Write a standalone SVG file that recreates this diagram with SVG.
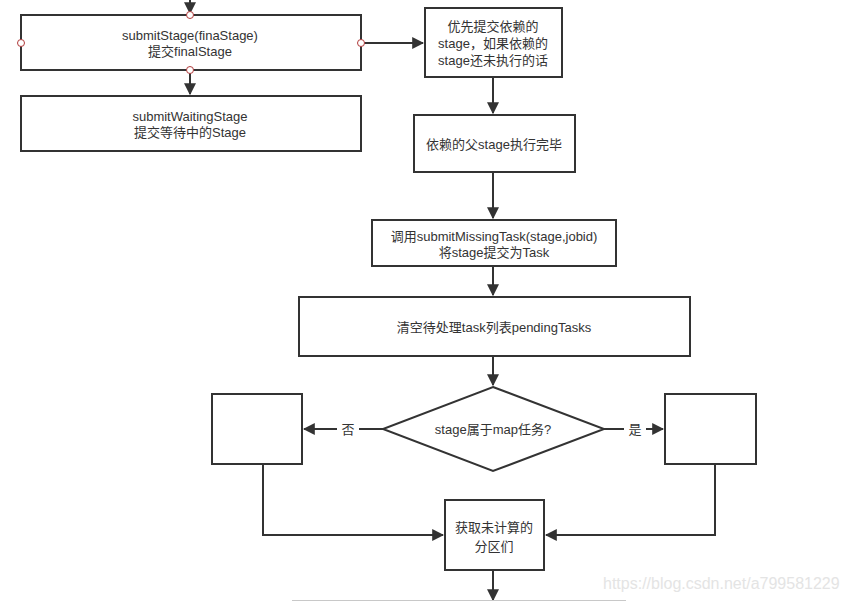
<svg xmlns="http://www.w3.org/2000/svg" width="846" height="602" viewBox="0 0 846 602">
<defs>
<style>
.box{fill:#fff;stroke:#333;stroke-width:2}
.t{font-family:"Liberation Sans","Noto Sans CJK SC",sans-serif;font-size:13px;fill:#333;text-anchor:middle}
.c{fill:none;stroke:#333;stroke-width:2}
.dot{fill:#fff;stroke:#b03a3a;stroke-width:1}
.wm{font-family:"Liberation Sans",sans-serif;font-size:16px;fill:#e4e4e4}
</style>
<marker id="ah" viewBox="0 0 10 10" refX="9" refY="5" markerWidth="6" markerHeight="6" markerUnits="strokeWidth" orient="auto">
<path d="M0,0 L10,5 L0,10 z" fill="#333"/>
</marker>
</defs>
<rect width="846" height="602" fill="#fff"/>
<g id="connectors">
<path class="c" d="M190,0 V13" marker-end="url(#ah)"/>
<path class="c" d="M190,70 V94" marker-end="url(#ah)"/>
<path class="c" d="M361,43 H423" marker-end="url(#ah)"/>
<path class="c" d="M493,77 V113" marker-end="url(#ah)"/>
<path class="c" d="M493,172 V218" marker-end="url(#ah)"/>
<path class="c" d="M493,266 V295" marker-end="url(#ah)"/>
<path class="c" d="M493,356 V385" marker-end="url(#ah)"/>
<path class="c" d="M383,429 H304" marker-end="url(#ah)"/>
<path class="c" d="M604,429 H663" marker-end="url(#ah)"/>
<path class="c" d="M263,464 V535 H443" marker-end="url(#ah)"/>
<path class="c" d="M715,464 V535 H546" marker-end="url(#ah)"/>
<path class="c" d="M493,570 V600" marker-end="url(#ah)"/>
<rect x="337" y="421" width="22" height="16" fill="#fff"/>
<text class="t" x="348" y="434">否</text>
<rect x="624" y="421" width="22" height="16" fill="#fff"/>
<text class="t" x="635" y="434">是</text>
</g>
<g id="n1">
<rect class="box" x="21" y="15" width="340" height="55"/>
<text class="t" x="190" y="40">submitStage(finaStage)</text>
<text class="t" x="190" y="56">提交finalStage</text>
<circle class="dot" cx="190" cy="15" r="3.5"/>
<circle class="dot" cx="21" cy="43" r="3.5"/>
<circle class="dot" cx="361" cy="43" r="3.5"/>
<circle class="dot" cx="190" cy="70" r="3.5"/>
</g>
<g id="n2">
<rect class="box" x="21" y="96" width="340" height="55"/>
<text class="t" x="190" y="121">submitWaitingStage</text>
<text class="t" x="190" y="137">提交等待中的Stage</text>
</g>
<g id="n3">
<rect class="box" x="425" y="8" width="137" height="69"/>
<text class="t" x="493" y="31">优先提交依赖的</text>
<text class="t" x="493" y="48">stage，如果依赖的</text>
<text class="t" x="493" y="65">stage还未执行的话</text>
</g>
<g id="n4">
<rect class="box" x="414" y="115" width="161" height="57"/>
<text class="t" x="494" y="149">依赖的父stage执行完毕</text>
</g>
<g id="n5">
<rect class="box" x="372" y="220" width="244" height="46"/>
<text class="t" x="494" y="241">调用submitMissingTask(stage,jobid)</text>
<text class="t" x="494" y="257">将stage提交为Task</text>
</g>
<g id="n6">
<rect class="box" x="299" y="297" width="391" height="59"/>
<text class="t" x="494" y="332">清空待处理task列表pendingTasks</text>
</g>
<g id="n7">
<polygon class="box" points="493,387 604,429 493,471 383,429"/>
<text class="t" x="493" y="434">stage属于map任务?</text>
</g>
<g id="n8">
<rect class="box" x="212" y="394" width="90" height="70"/>
</g>
<g id="n9">
<rect class="box" x="665" y="394" width="91" height="70"/>
</g>
<g id="n10">
<rect class="box" x="445" y="500" width="99" height="70"/>
<text class="t" x="494" y="532">获取未计算的</text>
<text class="t" x="494" y="551">分区们</text>
</g>
<line x1="292" y1="600.5" x2="626" y2="600.5" stroke="#c8c8c8" stroke-width="1"/>
<text class="wm" x="603" y="589">https://blog.csdn.net/a799581229</text>
</svg>
